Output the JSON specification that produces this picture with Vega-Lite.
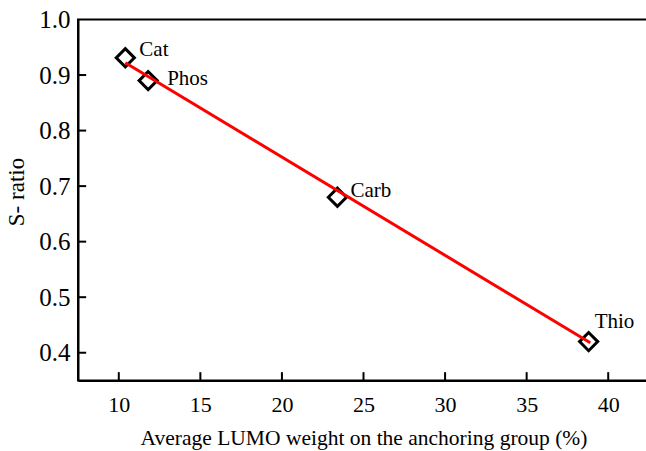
{
  "$schema": "https://vega.github.io/schema/vega-lite/v6.json",
  "width": 571,
  "height": 361,
  "autosize": {"type": "none"},
  "padding": {"left": 78, "top": 19.5, "right": 0, "bottom": 71},
  "background": "white",
  "config": {
    "view": {"stroke": "black", "strokeWidth": 2},
    "font": "Liberation Serif",
    "axis": {
      "domainColor": "black",
      "domainWidth": 2,
      "ticks": false,
      "labelColor": "black",
      "titleColor": "black",
      "labelFont": "Liberation Serif",
      "titleFont": "Liberation Serif",
      "titleFontWeight": "normal",
      "grid": false
    }
  },
  "datasets": {
    "pts": [
      {"lumo": 10.4, "s": 0.931, "name": "Cat"},
      {"lumo": 11.8, "s": 0.89, "name": "Phos"},
      {"lumo": 23.4, "s": 0.68, "name": "Carb"},
      {"lumo": 38.8, "s": 0.42, "name": "Thio"}
    ],
    "fit": [
      {"lumo": 10.4, "s": 0.922},
      {"lumo": 38.9, "s": 0.418}
    ],
    "xticks": [{"v": 10}, {"v": 15}, {"v": 20}, {"v": 25}, {"v": 30}, {"v": 35}, {"v": 40}],
    "yticks": [{"v": 0.4}, {"v": 0.5}, {"v": 0.6}, {"v": 0.7}, {"v": 0.8}, {"v": 0.9}]
  },
  "layer": [
    {
      "data": {"name": "pts"},
      "mark": {"type": "point", "shape": "diamond", "size": 330, "filled": false, "stroke": "black", "strokeWidth": 3, "opacity": 1},
      "encoding": {
        "x": {
          "field": "lumo", "type": "quantitative",
          "scale": {"domain": [7.5, 42.5], "nice": false, "zero": false},
          "axis": {
            "values": [10, 15, 20, 25, 30, 35, 40],
            "labelFontSize": 22,
            "labelPadding": 14,
            "title": "Average LUMO weight on the anchoring group  (%)",
            "titleFontSize": 21.5,
            "titleBaseline": "alphabetic",
            "titleY": 64
          }
        },
        "y": {
          "field": "s", "type": "quantitative",
          "scale": {"domain": [0.35, 1.0], "nice": false, "zero": false},
          "axis": {
            "values": [0.4, 0.5, 0.6, 0.7, 0.8, 0.9, 1.0],
            "format": ".1f",
            "labelFontSize": 25,
            "labelPadding": 8,
            "title": "S- ratio",
            "titleFontSize": 23,
            "titleX": -62,
            "titleY": 172,
            "titleBaseline": "middle",
            "titleAlign": "center",
            "titleAngle": -90
          }
        }
      }
    },
    {
      "data": {"name": "fit"},
      "mark": {"type": "line", "color": "#ff0000", "strokeWidth": 3},
      "encoding": {
        "x": {"field": "lumo", "type": "quantitative"},
        "y": {"field": "s", "type": "quantitative"}
      }
    },
    {
      "data": {"name": "pts"},
      "transform": [{"filter": "datum.name === 'Cat'"}],
      "mark": {"type": "text", "align": "left", "baseline": "middle", "dx": 14, "dy": -8, "fontSize": 21, "font": "Liberation Serif", "color": "black"},
      "encoding": {"x": {"field": "lumo", "type": "quantitative"}, "y": {"field": "s", "type": "quantitative"}, "text": {"field": "name"}}
    },
    {
      "data": {"name": "pts"},
      "transform": [{"filter": "datum.name === 'Phos'"}],
      "mark": {"type": "text", "align": "left", "baseline": "middle", "dx": 19, "dy": -2, "fontSize": 21, "font": "Liberation Serif", "color": "black"},
      "encoding": {"x": {"field": "lumo", "type": "quantitative"}, "y": {"field": "s", "type": "quantitative"}, "text": {"field": "name"}}
    },
    {
      "data": {"name": "pts"},
      "transform": [{"filter": "datum.name === 'Carb'"}],
      "mark": {"type": "text", "align": "left", "baseline": "middle", "dx": 13, "dy": -6, "fontSize": 21, "font": "Liberation Serif", "color": "black"},
      "encoding": {"x": {"field": "lumo", "type": "quantitative"}, "y": {"field": "s", "type": "quantitative"}, "text": {"field": "name"}}
    },
    {
      "data": {"name": "pts"},
      "transform": [{"filter": "datum.name === 'Thio'"}],
      "mark": {"type": "text", "align": "left", "baseline": "middle", "dx": 6, "dy": -20, "fontSize": 21, "font": "Liberation Serif", "color": "black"},
      "encoding": {"x": {"field": "lumo", "type": "quantitative"}, "y": {"field": "s", "type": "quantitative"}, "text": {"field": "name"}}
    },
    {
      "data": {"name": "xticks"},
      "mark": {"type": "rule", "color": "#000000", "strokeWidth": 2, "opacity": 1},
      "encoding": {
        "x": {"field": "v", "type": "quantitative"},
        "y": {"datum": 0.35},
        "y2": {"datum": 0.365}
      }
    },
    {
      "data": {"name": "yticks"},
      "mark": {"type": "rule", "color": "#000000", "strokeWidth": 2, "opacity": 1},
      "encoding": {
        "y": {"field": "v", "type": "quantitative"},
        "x": {"datum": 7.5},
        "x2": {"datum": 8.0}
      }
    }
  ]
}
